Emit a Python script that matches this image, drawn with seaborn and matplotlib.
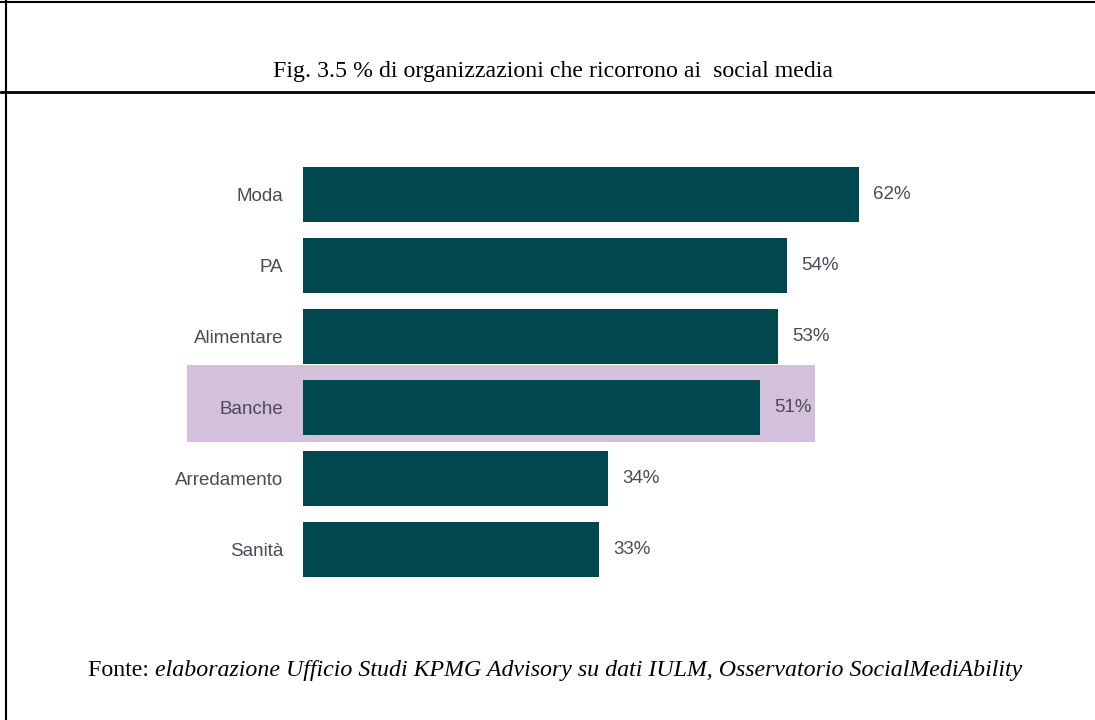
import matplotlib
matplotlib.use("Agg")
import matplotlib.pyplot as plt
from matplotlib.lines import Line2D
from matplotlib.patches import Rectangle
import seaborn as sns
import pandas as pd

categories = ["Moda", "PA", "Alimentare", "Banche", "Arredamento", "Sanità"]
values = [62, 54, 53, 51, 34, 33]
value_labels = ["62%", "54%", "53%", "51%", "34%", "33%"]
highlight = "Banche"

title = "Fig. 3.5 % di organizzazioni che ricorrono ai  social media"
source_prefix = "Fonte: "
source_body = "elaborazione Ufficio Studi KPMG Advisory su dati IULM, Osservatorio SocialMediAbility"

BAR = "#01474F"
BAND = "#D5C0DC"
LABEL = "#4B4B55"

sns.set_theme(style="white")
plt.rcParams["font.family"] = ["Liberation Sans Narrow", "Liberation Sans", "DejaVu Sans"]

W, H = 1095, 720
fig = plt.figure(figsize=(W / 100, H / 100), dpi=100)

# axes placed so that 0% sits at x=303px and categories are 71px apart
x0_px, px_per_pct = 303, 8.97
xmax = 70
top_px, bottom_px = 159, 585
ax = fig.add_axes([x0_px / W, 1 - bottom_px / H, xmax * px_per_pct / W, (bottom_px - top_px) / H])
ax.set_axisbelow(False)

df = pd.DataFrame({"categoria": categories, "valore": values})
sns.barplot(data=df, x="valore", y="categoria", orient="h", color=BAR,
            width=0.77, saturation=1, linewidth=0, ax=ax, zorder=3)

ax.set_xlim(0, xmax)
ax.set_ylim(len(categories) - 0.5, -0.5)
ax.set_xlabel("")
ax.set_ylabel("")
ax.set_xticks([])
for s in ax.spines.values():
    s.set_visible(False)
ax.tick_params(axis="y", length=0, pad=14, labelsize=13.5, labelcolor=LABEL)

# highlighted row, kept behind the bar and its label
hi = categories.index(highlight)
ax.add_patch(Rectangle((-12.9, hi - 0.6), 12.9 + 57.1, 1.09, facecolor=BAND,
                       edgecolor="none", clip_on=False, zorder=0.2))

for i, (v, lab) in enumerate(zip(values, value_labels)):
    ax.text(v + 1.55, i, lab, va="center", ha="left", fontsize=13.5, color=LABEL, zorder=4)

# frame lines and captions
fig.add_artist(Line2D([0, 1], [1 - 2 / H, 1 - 2 / H], color="black", lw=1.5))
fig.add_artist(Line2D([0, 1], [1 - 92 / H, 1 - 92 / H], color="black", lw=2))
fig.add_artist(Line2D([5.5 / W, 5.5 / W], [0, 1], color="black", lw=1.5))

fig.text(553 / W, 1 - 77 / H, title, ha="center", va="baseline", fontsize=17.2,
         family="Liberation Serif", color="black")

t1 = fig.text(88 / W, 1 - 676 / H, source_prefix, ha="left", va="baseline", fontsize=17.2,
              family="Liberation Serif", color="black")
fig.canvas.draw()
bb = t1.get_window_extent()
fig.text(bb.x1 / W, 1 - 676 / H, source_body, ha="left", va="baseline", fontsize=17.2,
         family="Liberation Serif", style="italic", color="black")

fig.savefig("out.png", dpi=100, facecolor="white")
